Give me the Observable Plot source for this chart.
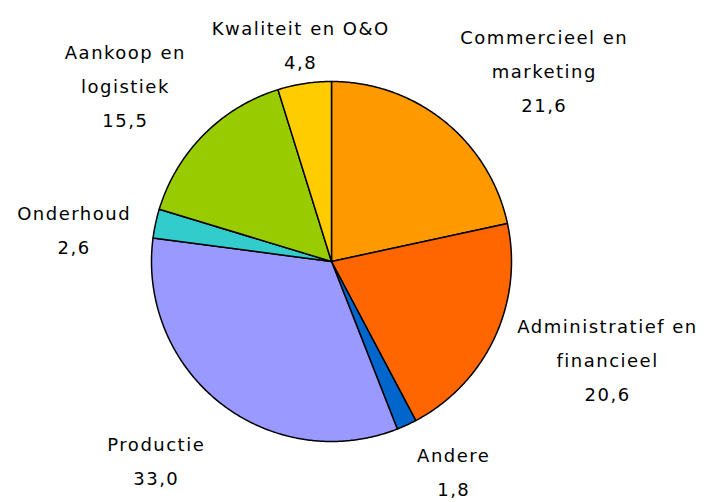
<!DOCTYPE html>
<html><head><meta charset="utf-8">
<script src="https://cdn.jsdelivr.net/npm/d3@7"></script>
<script src="https://cdn.jsdelivr.net/npm/@observablehq/plot@0.6"></script>
<style>body{margin:0;background:#fff}</style>
</head><body><div id="chart"></div>
<script>
const categories = ["Commercieel en\nmarketing", "Administratief en\nfinancieel", "Andere", "Productie", "Onderhoud", "Aankoop en\nlogistiek", "Kwaliteit en O&O"];
const values = [21.6, 20.6, 1.8, 33.0, 2.6, 15.5, 4.8];
const colors = ["#FF9900", "#FF6600", "#0066CC", "#9999FF", "#33CCCC", "#99CC00", "#FFCC00"];

const W = 723, H = 502, cx = 331, cy = 261, R = 180;
const FONT_SIZE = 18, FONT = "DejaVu Sans", LINE = 1.9, GAP = 25, LABEL_DY = 8, SPACING = 1.5, EDGE = 8;
const fmt = v => d3.format(".1f")(v).replace(".", ",");

const arcs = d3.pie().sort(null).value(d => d)(values);
const slicePts = [];
arcs.forEach((a, i) => {
  const n = Math.max(2, Math.ceil((a.endAngle - a.startAngle) / (Math.PI / 360)));
  slicePts.push({cat: categories[i], x: 0, y: 0});
  for (let k = 0; k <= n; k++) {
    const t = a.startAngle + (a.endAngle - a.startAngle) * k / n;
    slicePts.push({cat: categories[i], x: Math.sin(t), y: Math.cos(t)});
  }
  slicePts.push({cat: categories[i], x: 0, y: 0});
});

// Excel-like outside label placement: the glyph box's edge/corner sits at a point just outside
// the pie, and the box is kept inside the chart area.
const ctx = document.createElement("canvas").getContext("2d");
ctx.font = `${FONT_SIZE}px "${FONT}"`;
const labels = arcs.map((a, i) => {
  const text = categories[i] + "\n" + fmt(values[i]);
  const lines = text.split("\n");
  const w = d3.max(lines, l => ctx.measureText(l).width + l.length * SPACING);
  const h = lines.length * FONT_SIZE * LINE - FONT_SIZE * 0.9;
  const m = (a.startAngle + a.endAngle) / 2;
  const s = Math.sin(m), c = Math.cos(m);
  const px = cx + s * (R + GAP), py = cy - c * (R + GAP);
  let bx = s > 0.3 ? px + w / 2 : s < -0.3 ? px - w / 2 : px;
  let by = (c > 0.5 ? py - h / 2 : c < -0.5 ? py + h / 2 : py) + LABEL_DY;
  bx = Math.max(w / 2 + EDGE, Math.min(W - w / 2 - EDGE, bx));
  by = Math.max(h / 2 + EDGE, Math.min(H - h / 2 - EDGE, by));
  return {text, x: (bx - cx) / R, y: (cy - by) / R};
});

const chart = Plot.plot({
  width: W, height: H, margin: 0,
  style: {fontFamily: FONT, background: "#fff", letterSpacing: SPACING + "px"},
  x: {domain: [-1, 1], range: [cx - R, cx + R], axis: null},
  y: {domain: [-1, 1], range: [cy + R, cy - R], axis: null},
  color: {domain: categories, range: colors},
  marks: [
    Plot.line(slicePts, {x: "x", y: "y", z: "cat", fill: "cat", stroke: "#000", strokeWidth: 1.5, strokeLinejoin: "round"}),
    Plot.text(labels, {x: "x", y: "y", text: "text", fontSize: FONT_SIZE, lineHeight: LINE, textAnchor: "middle", lineAnchor: "middle", fill: "#000"})
  ]
});
document.getElementById("chart").appendChild(chart);
</script>
</body></html>
